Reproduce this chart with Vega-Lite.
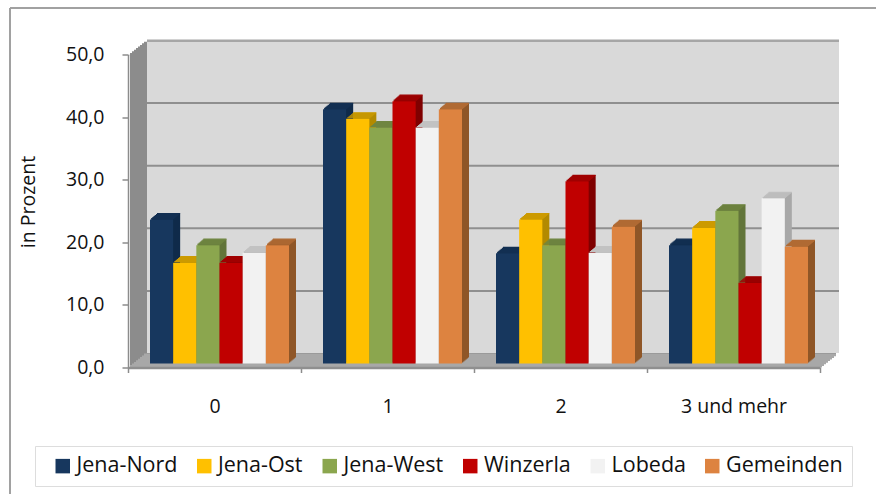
{"$schema":"https://vega.github.io/schema/vega-lite/v6.json","width":692,"height":313,"autosize":{"type":"none"},"padding":{"left":128,"top":54.5,"right":56,"bottom":126.5},"background":"white",
"datasets":{"anteile":[
{"kat":"0","gebiet":"Jena-Nord","anteil":23.0},{"kat":"0","gebiet":"Jena-Ost","anteil":16.1},{"kat":"0","gebiet":"Jena-West","anteil":18.9},{"kat":"0","gebiet":"Winzerla","anteil":16.1},{"kat":"0","gebiet":"Lobeda","anteil":17.7},{"kat":"0","gebiet":"Gemeinden","anteil":18.9},
{"kat":"1","gebiet":"Jena-Nord","anteil":40.6},{"kat":"1","gebiet":"Jena-Ost","anteil":39.1},{"kat":"1","gebiet":"Jena-West","anteil":37.7},{"kat":"1","gebiet":"Winzerla","anteil":41.9},{"kat":"1","gebiet":"Lobeda","anteil":37.7},{"kat":"1","gebiet":"Gemeinden","anteil":40.6},
{"kat":"2","gebiet":"Jena-Nord","anteil":17.6},{"kat":"2","gebiet":"Jena-Ost","anteil":23.0},{"kat":"2","gebiet":"Jena-West","anteil":18.9},{"kat":"2","gebiet":"Winzerla","anteil":29.1},{"kat":"2","gebiet":"Lobeda","anteil":17.7},{"kat":"2","gebiet":"Gemeinden","anteil":21.9},
{"kat":"3 und mehr","gebiet":"Jena-Nord","anteil":18.9},{"kat":"3 und mehr","gebiet":"Jena-Ost","anteil":21.7},{"kat":"3 und mehr","gebiet":"Jena-West","anteil":24.4},{"kat":"3 und mehr","gebiet":"Winzerla","anteil":12.9},{"kat":"3 und mehr","gebiet":"Lobeda","anteil":26.4},{"kat":"3 und mehr","gebiet":"Gemeinden","anteil":18.7}],
"kategorien":[{"kat":"0"},{"kat":"1"},{"kat":"2"},{"kat":"3 und mehr"}],
"raster":[{"kat":"0","wert":10},{"kat":"1","wert":10},{"kat":"2","wert":10},{"kat":"3 und mehr","wert":10},{"kat":"0","wert":20},{"kat":"1","wert":20},{"kat":"2","wert":20},{"kat":"3 und mehr","wert":20},{"kat":"0","wert":30},{"kat":"1","wert":30},{"kat":"2","wert":30},{"kat":"3 und mehr","wert":30},{"kat":"0","wert":40},{"kat":"1","wert":40},{"kat":"2","wert":40},{"kat":"3 und mehr","wert":40}]},
"data":{"name":"anteile"},
"resolve":{"scale":{"xOffset":"independent"}},
"layer":[
{"data":{"name":"kategorien"},"mark":{"type":"bar","fill":"#8c8c8c","xOffset":2,"yOffset":-1.6,"y2Offset":-1.6},"encoding":{"x":{"field":"kat","type":"nominal","sort":null,"scale":{"domain":["0","1","2","3 und mehr"],"paddingInner":0,"paddingOuter":0},"axis":{"title":null,"labelAngle":0,"tickBand":"extent","labelFont":"Open Sans","labelFontSize":19.5,"labelColor":"#111","labelPadding":25,"tickColor":"#8c8c8c","tickWidth":1.5,"tickSize":5,"domainColor":"#8f8f8f","domainWidth":2.5,"zindex":1}},"y":{"datum":50,"type":"quantitative","scale":{"domain":[0,50],"nice":false},"axis":{"values":[0,10,20,30,40,50],"title":"in Prozent","titleFont":"Open Sans","titleFontSize":19.5,"titleFontWeight":"normal","titleColor":"#111","titleX":-90,"titleY":147,"labelFont":"Open Sans","labelFontSize":19.5,"labelColor":"#111","labelPadding":18,"labelExpr":"replace(format(datum.value,'.1f'),'.',',')","tickColor":"#8c8c8c","tickWidth":1.5,"tickSize":6,"domainColor":"#8c8c8c","domainWidth":1.5,"grid":false}},"y2":{"datum":0}}},
{"data":{"name":"kategorien"},"mark":{"type":"bar","fill":"#8c8c8c","xOffset":4,"yOffset":-3.2,"y2Offset":-3.2},"encoding":{"x":{"field":"kat"},"y":{"datum":50},"y2":{"datum":0}}},
{"data":{"name":"kategorien"},"mark":{"type":"bar","fill":"#8c8c8c","xOffset":6,"yOffset":-4.8,"y2Offset":-4.8},"encoding":{"x":{"field":"kat"},"y":{"datum":50},"y2":{"datum":0}}},
{"data":{"name":"kategorien"},"mark":{"type":"bar","fill":"#8c8c8c","xOffset":8,"yOffset":-6.4,"y2Offset":-6.4},"encoding":{"x":{"field":"kat"},"y":{"datum":50},"y2":{"datum":0}}},
{"data":{"name":"kategorien"},"mark":{"type":"bar","fill":"#8c8c8c","xOffset":10,"yOffset":-8,"y2Offset":-8},"encoding":{"x":{"field":"kat"},"y":{"datum":50},"y2":{"datum":0}}},
{"data":{"name":"kategorien"},"mark":{"type":"bar","fill":"#8c8c8c","xOffset":12,"yOffset":-9.6,"y2Offset":-9.6},"encoding":{"x":{"field":"kat"},"y":{"datum":50},"y2":{"datum":0}}},
{"data":{"name":"kategorien"},"mark":{"type":"bar","fill":"#8c8c8c","xOffset":14,"yOffset":-11.2,"y2Offset":-11.2},"encoding":{"x":{"field":"kat"},"y":{"datum":50},"y2":{"datum":0}}},
{"data":{"name":"kategorien"},"mark":{"type":"bar","fill":"#8c8c8c","xOffset":16,"yOffset":-12.8,"y2Offset":-12.8},"encoding":{"x":{"field":"kat"},"y":{"datum":50},"y2":{"datum":0}}},
{"data":{"name":"kategorien"},"mark":{"type":"bar","fill":"#a8a8a8","xOffset":2,"yOffset":-2.4,"y2Offset":0},"encoding":{"x":{"field":"kat"},"y":{"datum":0},"y2":{"datum":0}}},
{"data":{"name":"kategorien"},"mark":{"type":"bar","fill":"#a8a8a8","xOffset":4,"yOffset":-4,"y2Offset":-1.6},"encoding":{"x":{"field":"kat"},"y":{"datum":0},"y2":{"datum":0}}},
{"data":{"name":"kategorien"},"mark":{"type":"bar","fill":"#a8a8a8","xOffset":6,"yOffset":-5.6,"y2Offset":-3.2},"encoding":{"x":{"field":"kat"},"y":{"datum":0},"y2":{"datum":0}}},
{"data":{"name":"kategorien"},"mark":{"type":"bar","fill":"#a8a8a8","xOffset":8,"yOffset":-7.2,"y2Offset":-4.8},"encoding":{"x":{"field":"kat"},"y":{"datum":0},"y2":{"datum":0}}},
{"data":{"name":"kategorien"},"mark":{"type":"bar","fill":"#a8a8a8","xOffset":10,"yOffset":-8.8,"y2Offset":-6.4},"encoding":{"x":{"field":"kat"},"y":{"datum":0},"y2":{"datum":0}}},
{"data":{"name":"kategorien"},"mark":{"type":"bar","fill":"#a8a8a8","xOffset":12,"yOffset":-10.4,"y2Offset":-8},"encoding":{"x":{"field":"kat"},"y":{"datum":0},"y2":{"datum":0}}},
{"data":{"name":"kategorien"},"mark":{"type":"bar","fill":"#a8a8a8","xOffset":14,"yOffset":-12,"y2Offset":-9.6},"encoding":{"x":{"field":"kat"},"y":{"datum":0},"y2":{"datum":0}}},
{"data":{"name":"kategorien"},"mark":{"type":"bar","fill":"#a8a8a8","xOffset":16,"yOffset":-14,"y2Offset":-11.2},"encoding":{"x":{"field":"kat"},"y":{"datum":0},"y2":{"datum":0}}},
{"data":{"name":"kategorien"},"mark":{"type":"bar","fill":"#d9d9d9","xOffset":19,"yOffset":-14.5,"y2Offset":-14.5},"encoding":{"x":{"field":"kat"},"y":{"datum":50},"y2":{"datum":0}}},
{"data":{"name":"raster"},"mark":{"type":"bar","fill":"#8f8f8f","xOffset":19,"yOffset":-15,"y2Offset":-13},"encoding":{"x":{"field":"kat"},"y":{"field":"wert","type":"quantitative"},"y2":{"field":"wert"}}},
{"data":{"name":"kategorien"},"mark":{"type":"bar","fill":"#a6a6a6","xOffset":19,"yOffset":-15,"y2Offset":-12.5},"encoding":{"x":{"field":"kat"},"y":{"datum":50},"y2":{"datum":50}}},
{"data":{"name":"kategorien"},"mark":{"type":"rule","color":"#a0a0a0","strokeWidth":1.5,"xOffset":-204.5,"x2Offset":142.5},"encoding":{"x":{"datum":"0"},"x2":{"datum":"3 und mehr"},"y":{"datum":57.43}}},
{"data":{"name":"kategorien"},"mark":{"type":"rule","color":"#a0a0a0","strokeWidth":1.5,"xOffset":-204.5},"encoding":{"x":{"datum":"0"},"y":{"datum":57.43},"y2":{"datum":-20.2}}},

{"mark":{"type":"bar","yOffset":-5,"y2Offset":-5},"encoding":{"x":{"field":"kat"},"xOffset":{"field":"gebiet","sort":null,"scale":{"domain":["Jena-Nord","Jena-Ost","Jena-West","Winzerla","Lobeda","Gemeinden"],"range":[23.2,162.2],"paddingInner":0,"paddingOuter":0}},"y":{"field":"anteil","type":"quantitative"},"y2":{"datum":0},"color":{"field":"gebiet","legend":null,"scale":{"domain":["Gemeinden","Lobeda","Winzerla","Jena-West","Jena-Ost","Jena-Nord"],"range":["#8f5627","#a8a8a8","#7f0000","#62753a","#b38a00","#0f2a4a"]}}}},
{"mark":{"type":"bar","yOffset":-6,"y2Offset":-6},"encoding":{"x":{"field":"kat"},"xOffset":{"field":"gebiet","sort":null,"scale":{"domain":["Jena-Nord","Jena-Ost","Jena-West","Winzerla","Lobeda","Gemeinden"],"range":[24.4,163.4],"paddingInner":0,"paddingOuter":0}},"y":{"field":"anteil","type":"quantitative"},"y2":{"datum":0},"color":{"field":"gebiet","legend":null,"scale":{"domain":["Gemeinden","Lobeda","Winzerla","Jena-West","Jena-Ost","Jena-Nord"],"range":["#8f5627","#a8a8a8","#7f0000","#62753a","#b38a00","#0f2a4a"]}}}},
{"mark":{"type":"bar","yOffset":-7,"y2Offset":-7},"encoding":{"x":{"field":"kat"},"xOffset":{"field":"gebiet","sort":null,"scale":{"domain":["Jena-Nord","Jena-Ost","Jena-West","Winzerla","Lobeda","Gemeinden"],"range":[25.6,164.6],"paddingInner":0,"paddingOuter":0}},"y":{"field":"anteil","type":"quantitative"},"y2":{"datum":0},"color":{"field":"gebiet","legend":null,"scale":{"domain":["Gemeinden","Lobeda","Winzerla","Jena-West","Jena-Ost","Jena-Nord"],"range":["#8f5627","#a8a8a8","#7f0000","#62753a","#b38a00","#0f2a4a"]}}}},
{"mark":{"type":"bar","yOffset":-8,"y2Offset":-8},"encoding":{"x":{"field":"kat"},"xOffset":{"field":"gebiet","sort":null,"scale":{"domain":["Jena-Nord","Jena-Ost","Jena-West","Winzerla","Lobeda","Gemeinden"],"range":[26.8,165.8],"paddingInner":0,"paddingOuter":0}},"y":{"field":"anteil","type":"quantitative"},"y2":{"datum":0},"color":{"field":"gebiet","legend":null,"scale":{"domain":["Gemeinden","Lobeda","Winzerla","Jena-West","Jena-Ost","Jena-Nord"],"range":["#8f5627","#a8a8a8","#7f0000","#62753a","#b38a00","#0f2a4a"]}}}},
{"mark":{"type":"bar","yOffset":-9,"y2Offset":-9},"encoding":{"x":{"field":"kat"},"xOffset":{"field":"gebiet","sort":null,"scale":{"domain":["Jena-Nord","Jena-Ost","Jena-West","Winzerla","Lobeda","Gemeinden"],"range":[28,167],"paddingInner":0,"paddingOuter":0}},"y":{"field":"anteil","type":"quantitative"},"y2":{"datum":0},"color":{"field":"gebiet","legend":null,"scale":{"domain":["Gemeinden","Lobeda","Winzerla","Jena-West","Jena-Ost","Jena-Nord"],"range":["#8f5627","#a8a8a8","#7f0000","#62753a","#b38a00","#0f2a4a"]}}}},
{"mark":{"type":"bar","yOffset":-10,"y2Offset":-10},"encoding":{"x":{"field":"kat"},"xOffset":{"field":"gebiet","sort":null,"scale":{"domain":["Jena-Nord","Jena-Ost","Jena-West","Winzerla","Lobeda","Gemeinden"],"range":[29,168],"paddingInner":0,"paddingOuter":0}},"y":{"field":"anteil","type":"quantitative"},"y2":{"datum":0},"color":{"field":"gebiet","legend":null,"scale":{"domain":["Gemeinden","Lobeda","Winzerla","Jena-West","Jena-Ost","Jena-Nord"],"range":["#8f5627","#a8a8a8","#7f0000","#62753a","#b38a00","#0f2a4a"]}}}},

{"mark":{"type":"bar","fillOpacity":0,"strokeWidth":1.2,"yOffset":-5,"y2Offset":-5},"encoding":{"x":{"field":"kat"},"xOffset":{"field":"gebiet","sort":null,"scale":{"domain":["Jena-Nord","Jena-Ost","Jena-West","Winzerla","Lobeda","Gemeinden"],"range":[23.2,162.2],"paddingInner":0,"paddingOuter":0}},"y":{"field":"anteil","type":"quantitative"},"y2":{"field":"anteil"},"stroke":{"field":"gebiet","legend":null,"scale":{"domain":["Jena-Ost","Jena-Nord","Jena-West","Winzerla","Lobeda","Gemeinden"],"range":["#cc9a00","#122f52","#6f8540","#a00000","#c2c2c2","#b06a33"]}}}},
{"mark":{"type":"bar","fillOpacity":0,"strokeWidth":1.2,"yOffset":-6,"y2Offset":-6},"encoding":{"x":{"field":"kat"},"xOffset":{"field":"gebiet","sort":null,"scale":{"domain":["Jena-Nord","Jena-Ost","Jena-West","Winzerla","Lobeda","Gemeinden"],"range":[24.4,163.4],"paddingInner":0,"paddingOuter":0}},"y":{"field":"anteil","type":"quantitative"},"y2":{"field":"anteil"},"stroke":{"field":"gebiet","legend":null,"scale":{"domain":["Jena-Ost","Jena-Nord","Jena-West","Winzerla","Lobeda","Gemeinden"],"range":["#cc9a00","#122f52","#6f8540","#a00000","#c2c2c2","#b06a33"]}}}},
{"mark":{"type":"bar","fillOpacity":0,"strokeWidth":1.2,"yOffset":-7,"y2Offset":-7},"encoding":{"x":{"field":"kat"},"xOffset":{"field":"gebiet","sort":null,"scale":{"domain":["Jena-Nord","Jena-Ost","Jena-West","Winzerla","Lobeda","Gemeinden"],"range":[25.6,164.6],"paddingInner":0,"paddingOuter":0}},"y":{"field":"anteil","type":"quantitative"},"y2":{"field":"anteil"},"stroke":{"field":"gebiet","legend":null,"scale":{"domain":["Jena-Ost","Jena-Nord","Jena-West","Winzerla","Lobeda","Gemeinden"],"range":["#cc9a00","#122f52","#6f8540","#a00000","#c2c2c2","#b06a33"]}}}},
{"mark":{"type":"bar","fillOpacity":0,"strokeWidth":1.2,"yOffset":-8,"y2Offset":-8},"encoding":{"x":{"field":"kat"},"xOffset":{"field":"gebiet","sort":null,"scale":{"domain":["Jena-Nord","Jena-Ost","Jena-West","Winzerla","Lobeda","Gemeinden"],"range":[26.8,165.8],"paddingInner":0,"paddingOuter":0}},"y":{"field":"anteil","type":"quantitative"},"y2":{"field":"anteil"},"stroke":{"field":"gebiet","legend":null,"scale":{"domain":["Jena-Ost","Jena-Nord","Jena-West","Winzerla","Lobeda","Gemeinden"],"range":["#cc9a00","#122f52","#6f8540","#a00000","#c2c2c2","#b06a33"]}}}},
{"mark":{"type":"bar","fillOpacity":0,"strokeWidth":1.2,"yOffset":-9,"y2Offset":-9},"encoding":{"x":{"field":"kat"},"xOffset":{"field":"gebiet","sort":null,"scale":{"domain":["Jena-Nord","Jena-Ost","Jena-West","Winzerla","Lobeda","Gemeinden"],"range":[28,167],"paddingInner":0,"paddingOuter":0}},"y":{"field":"anteil","type":"quantitative"},"y2":{"field":"anteil"},"stroke":{"field":"gebiet","legend":null,"scale":{"domain":["Jena-Ost","Jena-Nord","Jena-West","Winzerla","Lobeda","Gemeinden"],"range":["#cc9a00","#122f52","#6f8540","#a00000","#c2c2c2","#b06a33"]}}}},
{"mark":{"type":"bar","fillOpacity":0,"strokeWidth":1.2,"yOffset":-10,"y2Offset":-10},"encoding":{"x":{"field":"kat"},"xOffset":{"field":"gebiet","sort":null,"scale":{"domain":["Jena-Nord","Jena-Ost","Jena-West","Winzerla","Lobeda","Gemeinden"],"range":[29,168],"paddingInner":0,"paddingOuter":0}},"y":{"field":"anteil","type":"quantitative"},"y2":{"field":"anteil"},"stroke":{"field":"gebiet","legend":null,"scale":{"domain":["Jena-Ost","Jena-Nord","Jena-West","Winzerla","Lobeda","Gemeinden"],"range":["#cc9a00","#122f52","#6f8540","#a00000","#c2c2c2","#b06a33"]}}}},

{"mark":{"type":"bar","yOffset":-4,"y2Offset":-4},"encoding":{"x":{"field":"kat"},"xOffset":{"field":"gebiet","sort":null,"scale":{"domain":["Jena-Nord","Jena-Ost","Jena-West","Winzerla","Lobeda","Gemeinden"],"range":[22,161],"paddingInner":0,"paddingOuter":0}},"y":{"field":"anteil","type":"quantitative"},"y2":{"datum":0},"fill":{"field":"gebiet","sort":null,"scale":{"domain":["Jena-Nord","Jena-Ost","Jena-West","Winzerla","Lobeda","Gemeinden"],"range":["#17375e","#ffc000","#8ba64e","#c00000","#f2f2f2","#dd8340"]},"legend":{"title":" ","titleOrient":"left","titleFontSize":1,"titlePadding":8,"orient":"none","legendX":-93,"legendY":391.5,"direction":"horizontal","columns":6,"columnPadding":15.5,"fillColor":"white","strokeColor":"#dddddd","padding":9,"symbolType":"square","symbolSize":210,"symbolStrokeWidth":0,"labelFont":"Open Sans","labelFontSize":21.5,"labelColor":"#111","labelOffset":3}}}}
]}
